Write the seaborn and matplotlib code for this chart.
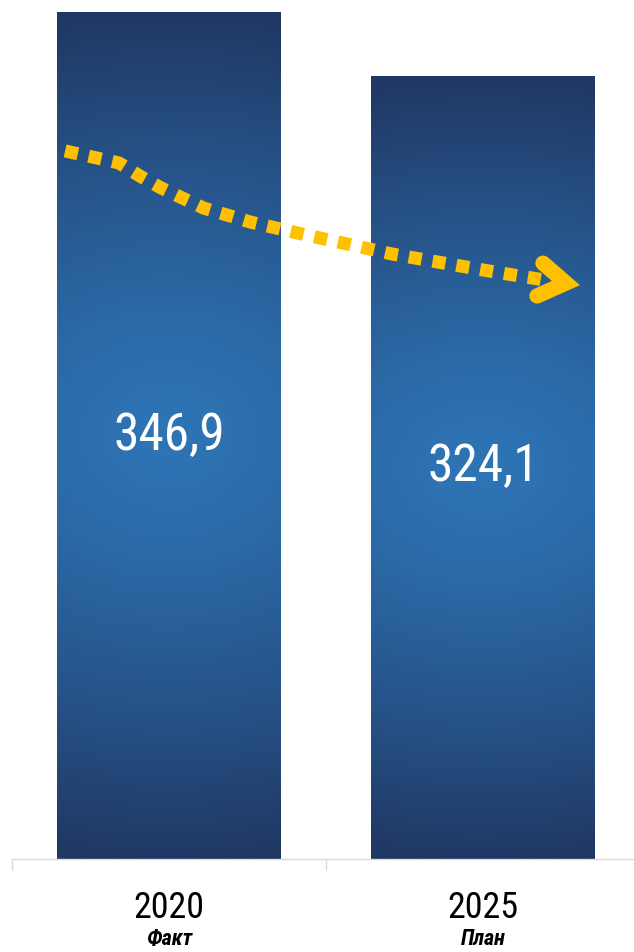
import numpy as np
import matplotlib
matplotlib.use("Agg")
import matplotlib.pyplot as plt
import seaborn as sns
import pandas as pd
from matplotlib.colors import LinearSegmentedColormap

# Data
years = ["2020", "2025"]
statuses = ["Факт", "План"]
values = [346.9, 324.1]
value_labels = ["346,9", "324,1"]

# Decorative trend arrow (data coordinates)
trend_x = [-0.331, -0.159, -0.092, -0.025, 0.111, 0.261, 0.411, 0.713, 1.019, 1.20]
trend_y = [297.4, 293.1, 288.4, 284.2, 277.0, 272.0, 268.1, 260.6, 254.6, 251.3]
head_x = [1.191, 1.264, 1.172]
head_y = [257.4, 250.3, 245.7]

sns.set_style("white")
plt.rcParams["font.family"] = ["Roboto Condensed", "DejaVu Sans"]

df = pd.DataFrame({"year": years, "value": values})

fig = plt.figure(figsize=(6.34, 9.52), dpi=100)
ax = fig.add_axes([12 / 634, 93 / 952, 628 / 634, 859 / 952])
sns.barplot(data=df, x="year", y="value", width=0.713, color="#2E75B6",
            saturation=1, ax=ax)
ymin, ymax = 45, 351.2

# gradient fill: light centre, dark navy at top and bottom
cmap = LinearSegmentedColormap.from_list("bar", ["#2E75B6", "#203864"])
yy, xx = np.mgrid[-1:1:400j, -1:1:200j]
r = np.clip(np.sqrt((0.22 * xx) ** 2 + yy ** 2), 0, 1) ** 1.3
for patch, lab in zip(ax.patches, value_labels):
    x0, w = patch.get_x(), patch.get_width()
    top = patch.get_y() + patch.get_height()
    im = ax.imshow(r, cmap=cmap, vmin=0, vmax=1, extent=[x0, x0 + w, ymin, top],
                   aspect="auto", origin="lower", zorder=2, interpolation="bilinear")
    im.set_clip_path(patch)
    patch.set_facecolor("none")
    patch.set_edgecolor("none")
    ax.text(x0 + w / 2, (ymin + top) / 2, lab, color="white", fontsize=37,
            ha="center", va="center", zorder=4)

ax.set_xlim(-0.5, 1.5)
ax.set_ylim(ymin, ymax)

# trend arrow
ax.plot(trend_x, trend_y, color="#FFC000", lw=9.4, linestyle=(0, (1, 0.85)),
        dash_capstyle="butt", zorder=5, clip_on=False)
ax.plot(head_x, head_y, color="#FFC000", lw=11, solid_capstyle="round",
        solid_joinstyle="miter", zorder=6, clip_on=False)

# axis styling
for s in ["top", "left", "right"]:
    ax.spines[s].set_visible(False)
ax.spines["bottom"].set_color("#D9D9D9")
ax.spines["bottom"].set_linewidth(1)
ax.set_yticks([])
ax.set_xticks([0, 1])
ax.set_xticklabels([])
ax.set_xticks([-0.5, 0.5, 1.5], minor=True)
ax.tick_params(axis="x", which="major", length=0)
ax.tick_params(axis="x", which="minor", length=8, width=1, color="#D9D9D9",
               direction="out", bottom=True)
ax.set_xlabel("")
ax.set_ylabel("")

for i, (yr, st) in enumerate(zip(years, statuses)):
    ax.annotate(yr, xy=(i, 0), xycoords=("data", "axes fraction"),
                xytext=(0, -59), textcoords="offset pixels",
                ha="center", va="baseline", fontsize=26, color="black",
                annotation_clip=False)
    ax.annotate(st, xy=(i, 0), xycoords=("data", "axes fraction"),
                xytext=(0, -86), textcoords="offset pixels",
                ha="center", va="baseline", fontsize=16, fontweight="bold",
                fontstyle="italic", color="black", annotation_clip=False)

fig.savefig("out.png", dpi=100)
